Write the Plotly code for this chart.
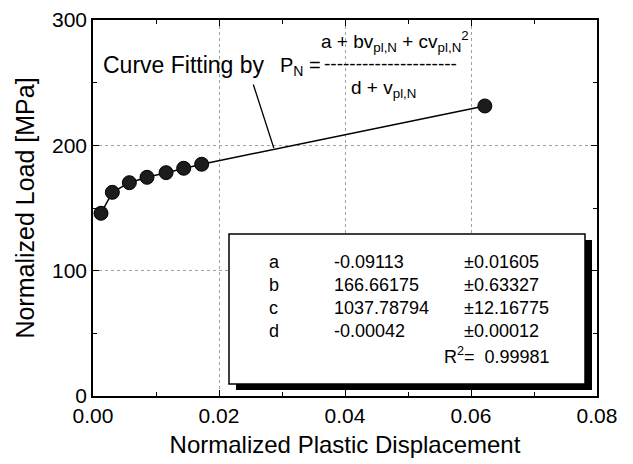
import plotly.graph_objects as go

# Data
disp = [0.00127, 0.00307, 0.00577, 0.00857, 0.0116, 0.0144, 0.01725, 0.0622]
load = [145.8, 162.5, 170.2, 174.5, 178.2, 181.7, 184.9, 231.4]

params = ["a", "b", "c", "d"]
values = ["-0.09113", "166.66175", "1037.78794", "-0.00042"]
errors = ["±0.01605", "±0.63327", "±12.16775", "±0.00012"]
r_squared = "0.99981"

x_ticks = [0.0, 0.02, 0.04, 0.06, 0.08]
y_ticks = [0, 100, 200, 300]

FONT = "Liberation Sans, Arial, sans-serif"

fig = go.Figure()
fig.add_trace(go.Scatter(
    x=disp, y=load, mode="lines+markers",
    line=dict(color="black", width=1.5),
    marker=dict(size=14, color="#1c1c1c", line=dict(color="#000", width=1)),
    showlegend=False,
))

# Page offset (browser body margin) and plot geometry in page pixels
OFF = 8
FW, FH = 633 - OFF, 464 - OFF
L, R, T, B = 93, 597, 20, 396
W, H = R - L, B - T
def px(x): return (x - L) / W
def py(y): return (B - y) / H

shapes = [
    dict(type="rect", xref="paper", yref="paper",
         x0=px(236), x1=px(592), y0=py(390), y1=py(240),
         fillcolor="black", line=dict(color="black", width=0), layer="above"),
    dict(type="rect", xref="paper", yref="paper",
         x0=px(229), x1=px(585), y0=py(384), y1=py(234),
         fillcolor="white", line=dict(color="black", width=1.5), layer="above"),
]

ann = []
row_y = [262, 285, 308, 331]
for i, p in enumerate(params):
    for txt, xx in ((p, 267), (values[i], 332), (errors[i], 462)):
        ann.append(dict(xref="paper", yref="paper", x=px(xx), y=py(row_y[i]),
                        text=txt, showarrow=False, xanchor="left", yanchor="middle",
                        font=dict(size=18, color="black", family=FONT)))
ann.append(dict(xref="paper", yref="paper", x=px(442), y=py(355),
                text="R<sup>2</sup>=  " + r_squared, showarrow=False,
                xanchor="left", yanchor="middle",
                font=dict(size=18, color="black", family=FONT)))

# Formula
ann.append(dict(xref="paper", yref="paper", x=px(101), y=py(65),
                text="Curve Fitting by", showarrow=False, xanchor="left", yanchor="middle",
                font=dict(size=23, color="black", family=FONT)))
ann.append(dict(xref="paper", yref="paper", x=px(278), y=py(66),
                text="P<sub>N</sub> =", showarrow=False, xanchor="left", yanchor="middle",
                font=dict(size=20, color="black", family=FONT)))
ann.append(dict(xref="paper", yref="paper", x=px(319), y=py(42),
                text="a + bv<sub>pl,N</sub> + cv<sub>pl,N</sub><sup>2</sup>", showarrow=False,
                xanchor="left", yanchor="middle",
                font=dict(size=19, color="black", family=FONT)))
ann.append(dict(xref="paper", yref="paper", x=px(322), y=py(63),
                text="-" * 21, showarrow=False, xanchor="left", yanchor="middle",
                font=dict(size=19, color="black", family=FONT)))
ann.append(dict(xref="paper", yref="paper", x=px(349), y=py(89),
                text="d + v<sub>pl,N</sub>", showarrow=False, xanchor="left", yanchor="middle",
                font=dict(size=19, color="black", family=FONT)))
# leader line
ann.append(dict(x=0.0287, y=197.9, xref="x", yref="y", text="", showarrow=True,
                arrowhead=0, arrowwidth=1.3, arrowcolor="black", ax=-21, ay=-65))

axis_common = dict(
    showline=True, linecolor="black", linewidth=1.5, mirror="allticks",
    ticks="inside", ticklen=6, tickwidth=1.2, tickcolor="black",
    showgrid=True, gridcolor="#a0a0a0", griddash="dot", gridwidth=1,
    zeroline=False, automargin=False,
    tickfont=dict(size=21, color="black", family=FONT),
)

fig.update_layout(
    width=FW, height=FH,
    margin=dict(l=L - OFF, r=633 - R, t=T - OFF, b=464 - B),
    paper_bgcolor="white", plot_bgcolor="white",
    xaxis=dict(range=[0, 0.08], tickvals=x_ticks, tickformat=".2f",
               minor=dict(dtick=0.01, ticks="inside", ticklen=4, tickcolor="black", showgrid=False),
               title=dict(text="Normalized Plastic Displacement", standoff=10,
                          font=dict(size=24, color="black", family=FONT)),
               **axis_common),
    yaxis=dict(range=[0, 300], tickvals=y_ticks,
               minor=dict(dtick=50, ticks="inside", ticklen=4, tickcolor="black", showgrid=False),
               title=dict(text="Normalized Load [MPa]", standoff=10,
                          font=dict(size=25, color="black", family=FONT)),
               **axis_common),
    shapes=shapes, annotations=ann,
)

fig.write_html("out.html")
